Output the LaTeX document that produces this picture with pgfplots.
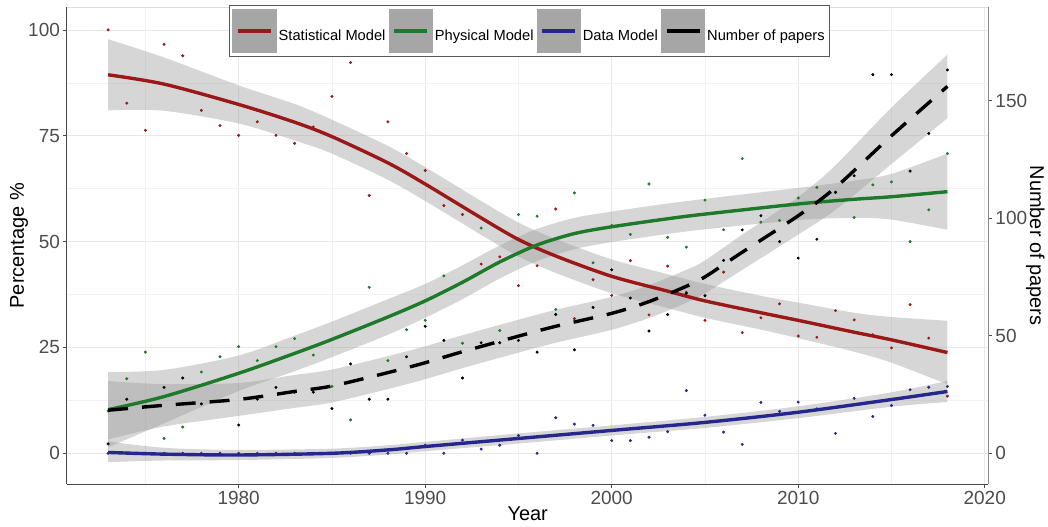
\documentclass[border=0pt]{standalone}
\usepackage{pgfplots}
\usepackage{pgfplotstable}
\pgfplotsset{compat=1.18}
\usepgfplotslibrary{fillbetween}
\usepackage{fontspec}
\setmainfont{Liberation Sans}
\definecolor{cred}{RGB}{155,24,24}
\definecolor{cgreen}{RGB}{30,122,42}
\definecolor{cblue}{RGB}{38,38,140}
\definecolor{bandc}{RGB}{153,153,153}
\definecolor{gridc}{RGB}{232,232,232}
\definecolor{ticklab}{RGB}{77,77,77}
\definecolor{keyc}{RGB}{166,166,166}

% smooth fits: year fit lo hi
\pgfplotstableread{
year fit lo hi
1973 89.4 81.0 97.8
1976 87.2 80.9 93.5
1980 82.4 77.9 86.9
1983 78.2 73.9 82.5
1985 74.8 70.8 78.8
1988 68.6 64.6 72.6
1990 63.6 59.6 67.6
1993 55.6 51.6 59.6
1995 50.5 46.5 54.5
1997 46.6 42.6 50.6
2000 41.8 37.8 45.8
2003 38.3 34.3 42.3
2005 36.0 32.0 40.0
2008 33.2 29.2 37.2
2010 31.4 27.2 35.6
2013 28.6 24.0 33.2
2015 26.8 21.4 32.2
2018 23.8 16.3 31.3
}\redfit
\pgfplotstableread{
year fit lo hi
1973 10.3 1.4 19.2
1976 13.4 7.1 19.7
1980 18.9 14.7 23.1
1983 23.6 19.4 27.8
1985 26.9 22.7 31.1
1988 32.2 28.0 36.4
1990 36.0 32.0 40.0
1992 40.4 36.4 44.4
1994 45.2 41.3 49.1
1996 49.2 45.4 53.0
1998 51.9 48.2 55.6
2000 53.5 49.9 57.1
2003 55.4 51.8 59.0
2005 56.5 52.9 60.1
2010 58.9 55.1 62.7
2013 60.0 55.6 64.4
2015 60.6 55.2 66.0
2018 61.8 52.8 70.8
}\greenfit
\pgfplotstableread{
year fit lo hi
1973 0.2 -2.1 2.8
1976 -0.2 -1.7 1.3
1980 -0.4 -1.6 0.8
1985 0.0 -1.1 1.1
1988 0.8 -0.3 1.9
1990 1.6 0.5 2.7
1995 3.5 2.3 4.7
2000 5.4 4.2 6.6
2005 7.3 6.0 8.6
2010 9.7 8.3 11.1
2015 12.7 11.0 14.4
2018 14.6 12.1 17.1
}\bluefit
\pgfplotstableread{
year fit lo hi
1973 18.3 5.9 30.7
1976 20.4 11.4 29.4
1980 22.9 15.9 29.9
1983 26.3 19.3 33.3
1985 28.6 21.6 35.6
1988 34.3 27.3 41.3
1990 38.5 31.5 45.5
1992 43.2 36.2 50.2
1995 49.8 42.8 56.8
1997 54.0 47.0 61.0
2000 59.5 52.5 66.5
2002 64.5 57.5 71.5
2004 71.0 64.0 78.0
2005 75.0 68.0 82.0
2007 85.5 78.0 93.0
2010 101.0 93.0 109.0
2012 113.0 103.5 122.5
2015 135.0 123.0 147.0
2018 156.0 142.5 169.5
}\blackfit

% yearly observations
\pgfplotstableread{
year red green blue
1973 100.0 10.0 0.0
1974 82.7 17.6 0.0
1975 76.3 23.9 0.0
1976 96.6 3.5 0.0
1977 93.9 6.2 0.0
1978 81.0 19.2 0.0
1979 77.4 22.8 0.0
1980 75.1 25.2 0.0
1981 78.3 21.9 0.0
1982 75.1 25.2 0.0
1983 73.2 27.1 0.0
1984 77.1 23.2 0.0
1985 84.3 15.8 0.0
1986 92.3 7.9 0.0
1987 60.9 39.2 0.0
1988 78.3 21.9 0.0
1989 70.8 29.2 0.0
1990 66.8 31.4 1.9
1991 58.5 41.9 0.0
1992 56.4 26.0 3.1
1993 44.7 53.2 1.0
1994 46.4 29.0 1.9
1995 39.6 56.4 4.2
1996 44.3 56.0 0.0
1997 57.7 34.0 8.4
1998 31.8 61.5 6.9
1999 41.0 45.0 6.6
2000 37.3 53.8 3.0
2001 45.5 51.7 3.0
2002 32.7 63.6 3.8
2003 44.2 51.0 5.1
2004 38.0 48.7 14.8
2005 31.4 59.8 9.0
2006 42.8 52.8 5.0
2007 28.5 69.6 2.1
2008 32.0 54.6 12.0
2009 35.3 55.0 9.9
2010 27.7 60.3 12.1
2011 27.4 62.8 10.5
2012 33.7 61.6 4.7
2013 31.5 55.7 13.0
2014 28.0 63.4 8.7
2015 24.9 64.1 11.3
2016 35.1 50.0 15.0
2017 27.2 57.5 15.6
2018 13.5 70.8 15.8
}\obs
\pgfplotstableread{
year papers
1973 4
1974 23
1975 20
1976 28
1977 32
1978 21
1979 22
1980 12
1981 23
1982 28
1983 26
1984 26
1985 19
1986 38
1987 23
1988 23
1989 41
1990 54
1991 48
1992 32
1993 47
1994 47
1995 48
1996 43
1997 59
1998 44
1999 62
2000 78
2001 66
2002 52
2003 59
2004 68
2005 67
2006 82
2007 95
2008 101
2009 90
2010 83
2011 91
2012 111
2013 118
2014 161
2015 161
2016 120
2017 136
2018 163
}\papers

\begin{document}
\begin{tikzpicture}
\pgfplotsset{
  base/.style={
    scale only axis, width=923bp, height=478bp,
    xmin=1970.79, xmax=2020.2,
    tick align=outside, major tick length=3.5bp, minor tick length=0bp,
    tick style={color=black!70, line width=0.8bp},
    /pgf/number format/assume math mode=true,
    /pgf/number format/set thousands separator={},
    tick label style={font=\fontsize{19bp}{22bp}\selectfont, text=ticklab},
  },
  ptstyle/.style={only marks, mark=*, mark size=1.3bp, forget plot},
  bandstyle/.style={fill=bandc, fill opacity=0.4, draw=none, forget plot},
  fitline/.style={smooth, line width=3.4bp, forget plot},
  keyimg/.style={legend image code/.code={%
      \fill[keyc] (0bp,-15.2bp) rectangle (41bp,25.8bp);
      \draw[##1] (4bp,5.3bp) -- (37bp,5.3bp);}},
}
\begin{axis}[base,
  ymin=-7.31, ymax=105.42,
  axis x line*=bottom, axis y line*=left,
  axis line style={draw=black!72, line width=0.9bp},
  xtick={1980,1990,2000,2010,2020},
  minor xtick={1975,1985,1995,2005,2015},
  ytick={0,25,50,75,100},
  minor ytick={12.5,37.5,62.5,87.5},
  grid=both,
  major grid style={draw=gridc, line width=0.8bp},
  minor grid style={draw=gridc!55, line width=0.6bp},
  xlabel={Year}, ylabel={Percentage \%},
  every axis x label/.style={at={(rel axis cs:0.5,0)}, anchor=center, yshift=-30bp,
    font=\fontsize{20bp}{24bp}\selectfont, text=black},
  every axis y label/.style={at={(rel axis cs:0,0.5)}, anchor=center, xshift=-48bp, rotate=90,
    font=\fontsize{20bp}{24bp}\selectfont, text=black},
]
\coordinate (o) at (rel axis cs:0,0);
% observations
\addplot[ptstyle, color=cred] table[x=year, y=red] {\obs};
\addplot[ptstyle, color=cgreen] table[x=year, y=green] {\obs};
\addplot[ptstyle, color=cblue] table[x=year, y=blue] {\obs};
% statistical
\addplot[name path=rlo, draw=none, smooth, forget plot] table[x=year, y=lo] {\redfit};
\addplot[name path=rhi, draw=none, smooth, forget plot] table[x=year, y=hi] {\redfit};
\addplot[bandstyle] fill between[of=rlo and rhi];
\addplot[fitline, color=cred] table[x=year, y=fit] {\redfit};
% physical
\addplot[name path=glo, draw=none, smooth, forget plot] table[x=year, y=lo] {\greenfit};
\addplot[name path=ghi, draw=none, smooth, forget plot] table[x=year, y=hi] {\greenfit};
\addplot[bandstyle] fill between[of=glo and ghi];
\addplot[fitline, color=cgreen] table[x=year, y=fit] {\greenfit};
% data
\addplot[name path=blo, draw=none, smooth, forget plot] table[x=year, y=lo] {\bluefit};
\addplot[name path=bhi, draw=none, smooth, forget plot] table[x=year, y=hi] {\bluefit};
\addplot[bandstyle] fill between[of=blo and bhi];
\addplot[fitline, color=cblue] table[x=year, y=fit] {\bluefit};
\end{axis}

\begin{axis}[base,
  ymin=-13.16, ymax=189.76,
  axis x line*=top, axis y line*=right,
  xtick=\empty,
  x axis line style={draw=black!13, line width=0.8bp},
  y axis line style={draw=black!45, line width=1.1bp},
  ytick={0,50,100,150},
  ylabel={Number of papers},
  every axis y label/.style={at={(rel axis cs:1,0.5)}, anchor=center, xshift=47bp, rotate=-90,
    font=\fontsize{20bp}{24bp}\selectfont, text=black},
  legend columns=4,
  legend cell align=left,
  legend style={at={(0.502,1)}, anchor=north, yshift=2bp,
    draw=black!65, line width=0.8bp, fill=white,
    inner xsep=3bp, inner ysep=3.5bp,
    font=\fontsize{14.7bp}{17bp}\selectfont,
    nodes={inner xsep=2bp},
    /tikz/every even column/.append style={column sep=1bp}},
]
\addlegendimage{keyimg, color=cred, line width=3.4bp}
\addlegendentry{Statistical Model}
\addlegendimage{keyimg, color=cgreen, line width=3.4bp}
\addlegendentry{Physical Model}
\addlegendimage{keyimg, color=cblue, line width=3.4bp}
\addlegendentry{Data Model}
\addlegendimage{keyimg, color=black, line width=3.4bp}
\addlegendentry{Number of papers}
\addplot[ptstyle, color=black] table[x=year, y=papers] {\papers};
\addplot[name path=klo, draw=none, smooth, forget plot] table[x=year, y=lo] {\blackfit};
\addplot[name path=khi, draw=none, smooth, forget plot] table[x=year, y=hi] {\blackfit};
\addplot[bandstyle] fill between[of=klo and khi];
\addplot[fitline, color=black, dash pattern=on 20bp off 14bp] table[x=year, y=fit] {\blackfit};
\end{axis}
\path (o) ++(-67bp,-42bp) rectangle ++(1048bp,527bp);
\end{tikzpicture}
\end{document}
